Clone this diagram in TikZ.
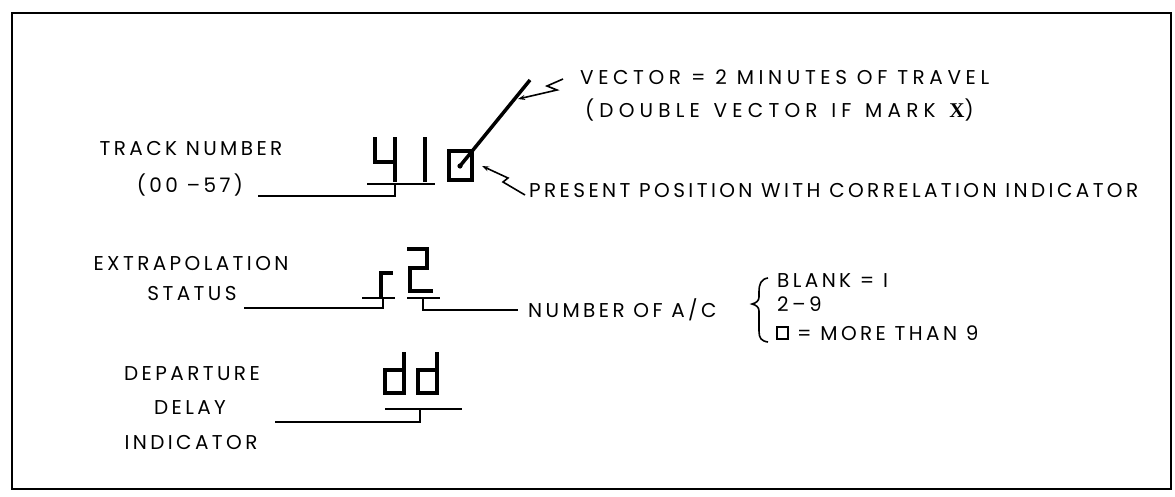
\documentclass[tikz,border=0pt]{standalone}
\usepackage{fontspec}
\setmainfont[LetterSpace=17]{Poppins}
\newfontfamily\spreadA[LetterSpace=23]{Poppins}
\newfontfamily\spreadB[LetterSpace=26,WordSpace=1.3]{Poppins}
\newfontfamily\serifx{Liberation Serif}
\usetikzlibrary{arrows.meta}

\begin{document}
\begin{tikzpicture}[x=1pt,y=-1pt,
  lbl/.style={font=\fontsize{20}{22}\selectfont, inner sep=0pt, text height=14pt, text depth=0pt},
  glyph/.style={line width=4pt, line join=miter, line cap=butt},
  rule/.style={line width=1.8pt, line join=miter},
  lead/.style={line width=1.6pt, line join=miter},
  tip/.style={-{Stealth[length=7pt,width=5pt]}},
  frame/.style={line width=1.5pt}]

\useasboundingbox (0,0) rectangle (1175,496);
\draw[frame] (12,13) rectangle (1171,489);

% ---------- track number row ----------
\node[lbl] (trk1) at (191,148) {TRACK NUMBER};
\node[lbl] (trk2) at (190,185) {(00 --57)};
% digits "41"
\draw[glyph] (375,137) -- (375,162) -- (395,162);
\draw[glyph] (395,137) -- (395,182);
\draw[glyph] (425,137) -- (425,182);
% underline and tie to the label
\coordinate (tU1) at (367,184);
\coordinate (tU2) at (435,184);
\coordinate (tJ) at (395,184);
\coordinate (tL) at (258,196);
\draw[rule] (tU1) -- (tU2);
\draw[rule] (tJ) |- (tL);

% present position box and vector
\coordinate (pos) at (460,166);
\coordinate (vend) at (530,80);
\draw[line width=3.5pt] (449,151) rectangle (472,180);
\draw[line width=3.5pt] (pos) -- (vend);
\fill (pos) circle (2.6pt);

\node[lbl, anchor=west, font=\spreadA\fontsize{20}{22}\selectfont] (vec1) at (580,77) {VECTOR = 2 MINUTES OF TRAVEL};
\node[lbl, anchor=west, font=\spreadB\fontsize{20}{22}\selectfont] (vec2) at (585,110) {(DOUBLE VECTOR IF MARK {\serifx\bfseries\fontsize{21}{21}\selectfont X})};
\coordinate (vtip) at (518,99);
\draw[lead, tip] (563,79) -- (547,86) -- (557,90) -- (vtip);

\node[lbl, anchor=west] (pres) at (529,190) {PRESENT POSITION WITH CORRELATION INDICATOR};
\coordinate (ptip) at (482,166);
\draw[lead, tip] (525,195) -- (503,182) -- (508,178) -- (ptip);

% ---------- extrapolation row ----------
\node[lbl] (ext1) at (191,263) {EXTRAPOLATION};
\node[lbl] (ext2) at (192,293) {STATUS};
% "r"
\draw[glyph] (381,297) -- (381,273) -- (393,273);
% "2"
\draw[glyph] (407,249) -- (427,249) -- (427,268) -- (410,268) -- (410,291) -- (433,291);
\coordinate (eU1) at (362,298);
\coordinate (eU2) at (395,298);
\coordinate (eJ) at (383,298);
\coordinate (eL) at (244,308);
\draw[rule] (eU1) -- (eU2);
\draw[rule] (eJ) |- (eL);
\coordinate (nU1) at (407,298);
\coordinate (nU2) at (440,298);
\coordinate (nJ) at (423,298);
\draw[rule] (nU1) -- (nU2);

\node[lbl, anchor=west] (nac) at (528,310) {NUMBER OF A/C};
\draw[rule] (nJ) |- ([xshift=-10pt]nac.west);

% brace and list of counts
\draw[line width=1.6pt] (768,278) .. controls (761,279) and (759,284) .. (759,292)
  -- (759,297) .. controls (759,301) and (756,303) .. (752,304)
  .. controls (756,305) and (759,307) .. (759,311)
  -- (759,331) .. controls (759,338) and (761,341) .. (768,342);
\node[lbl, anchor=west] (c1) at (777,280) {BLANK = I};
\node[lbl, anchor=west] (c2) at (777,304) {2--9};
\node[lbl, anchor=west] (c3) at (797,333) {= MORE THAN 9};
\draw[line width=2.2pt] (777,327) rectangle (788,339);

% ---------- departure delay row ----------
\node[lbl] (dep1) at (192,373) {DEPARTURE};
\node[lbl] (dep2) at (190,407) {DELAY};
\node[lbl] (dep3) at (191,442) {INDICATOR};
% "dd"
\draw[glyph] (404,352) -- (404,393) -- (385,393) -- (385,370) -- (404,370);
\draw[glyph] (437,352) -- (437,393) -- (418,393) -- (418,370) -- (437,370);
\coordinate (dU1) at (385,409);
\coordinate (dU2) at (462,409);
\coordinate (dJ) at (420,409);
\coordinate (dL) at (275,422);
\draw[rule] (dU1) -- (dU2);
\draw[rule] (dJ) |- (dL);
\end{tikzpicture}
\end{document}
